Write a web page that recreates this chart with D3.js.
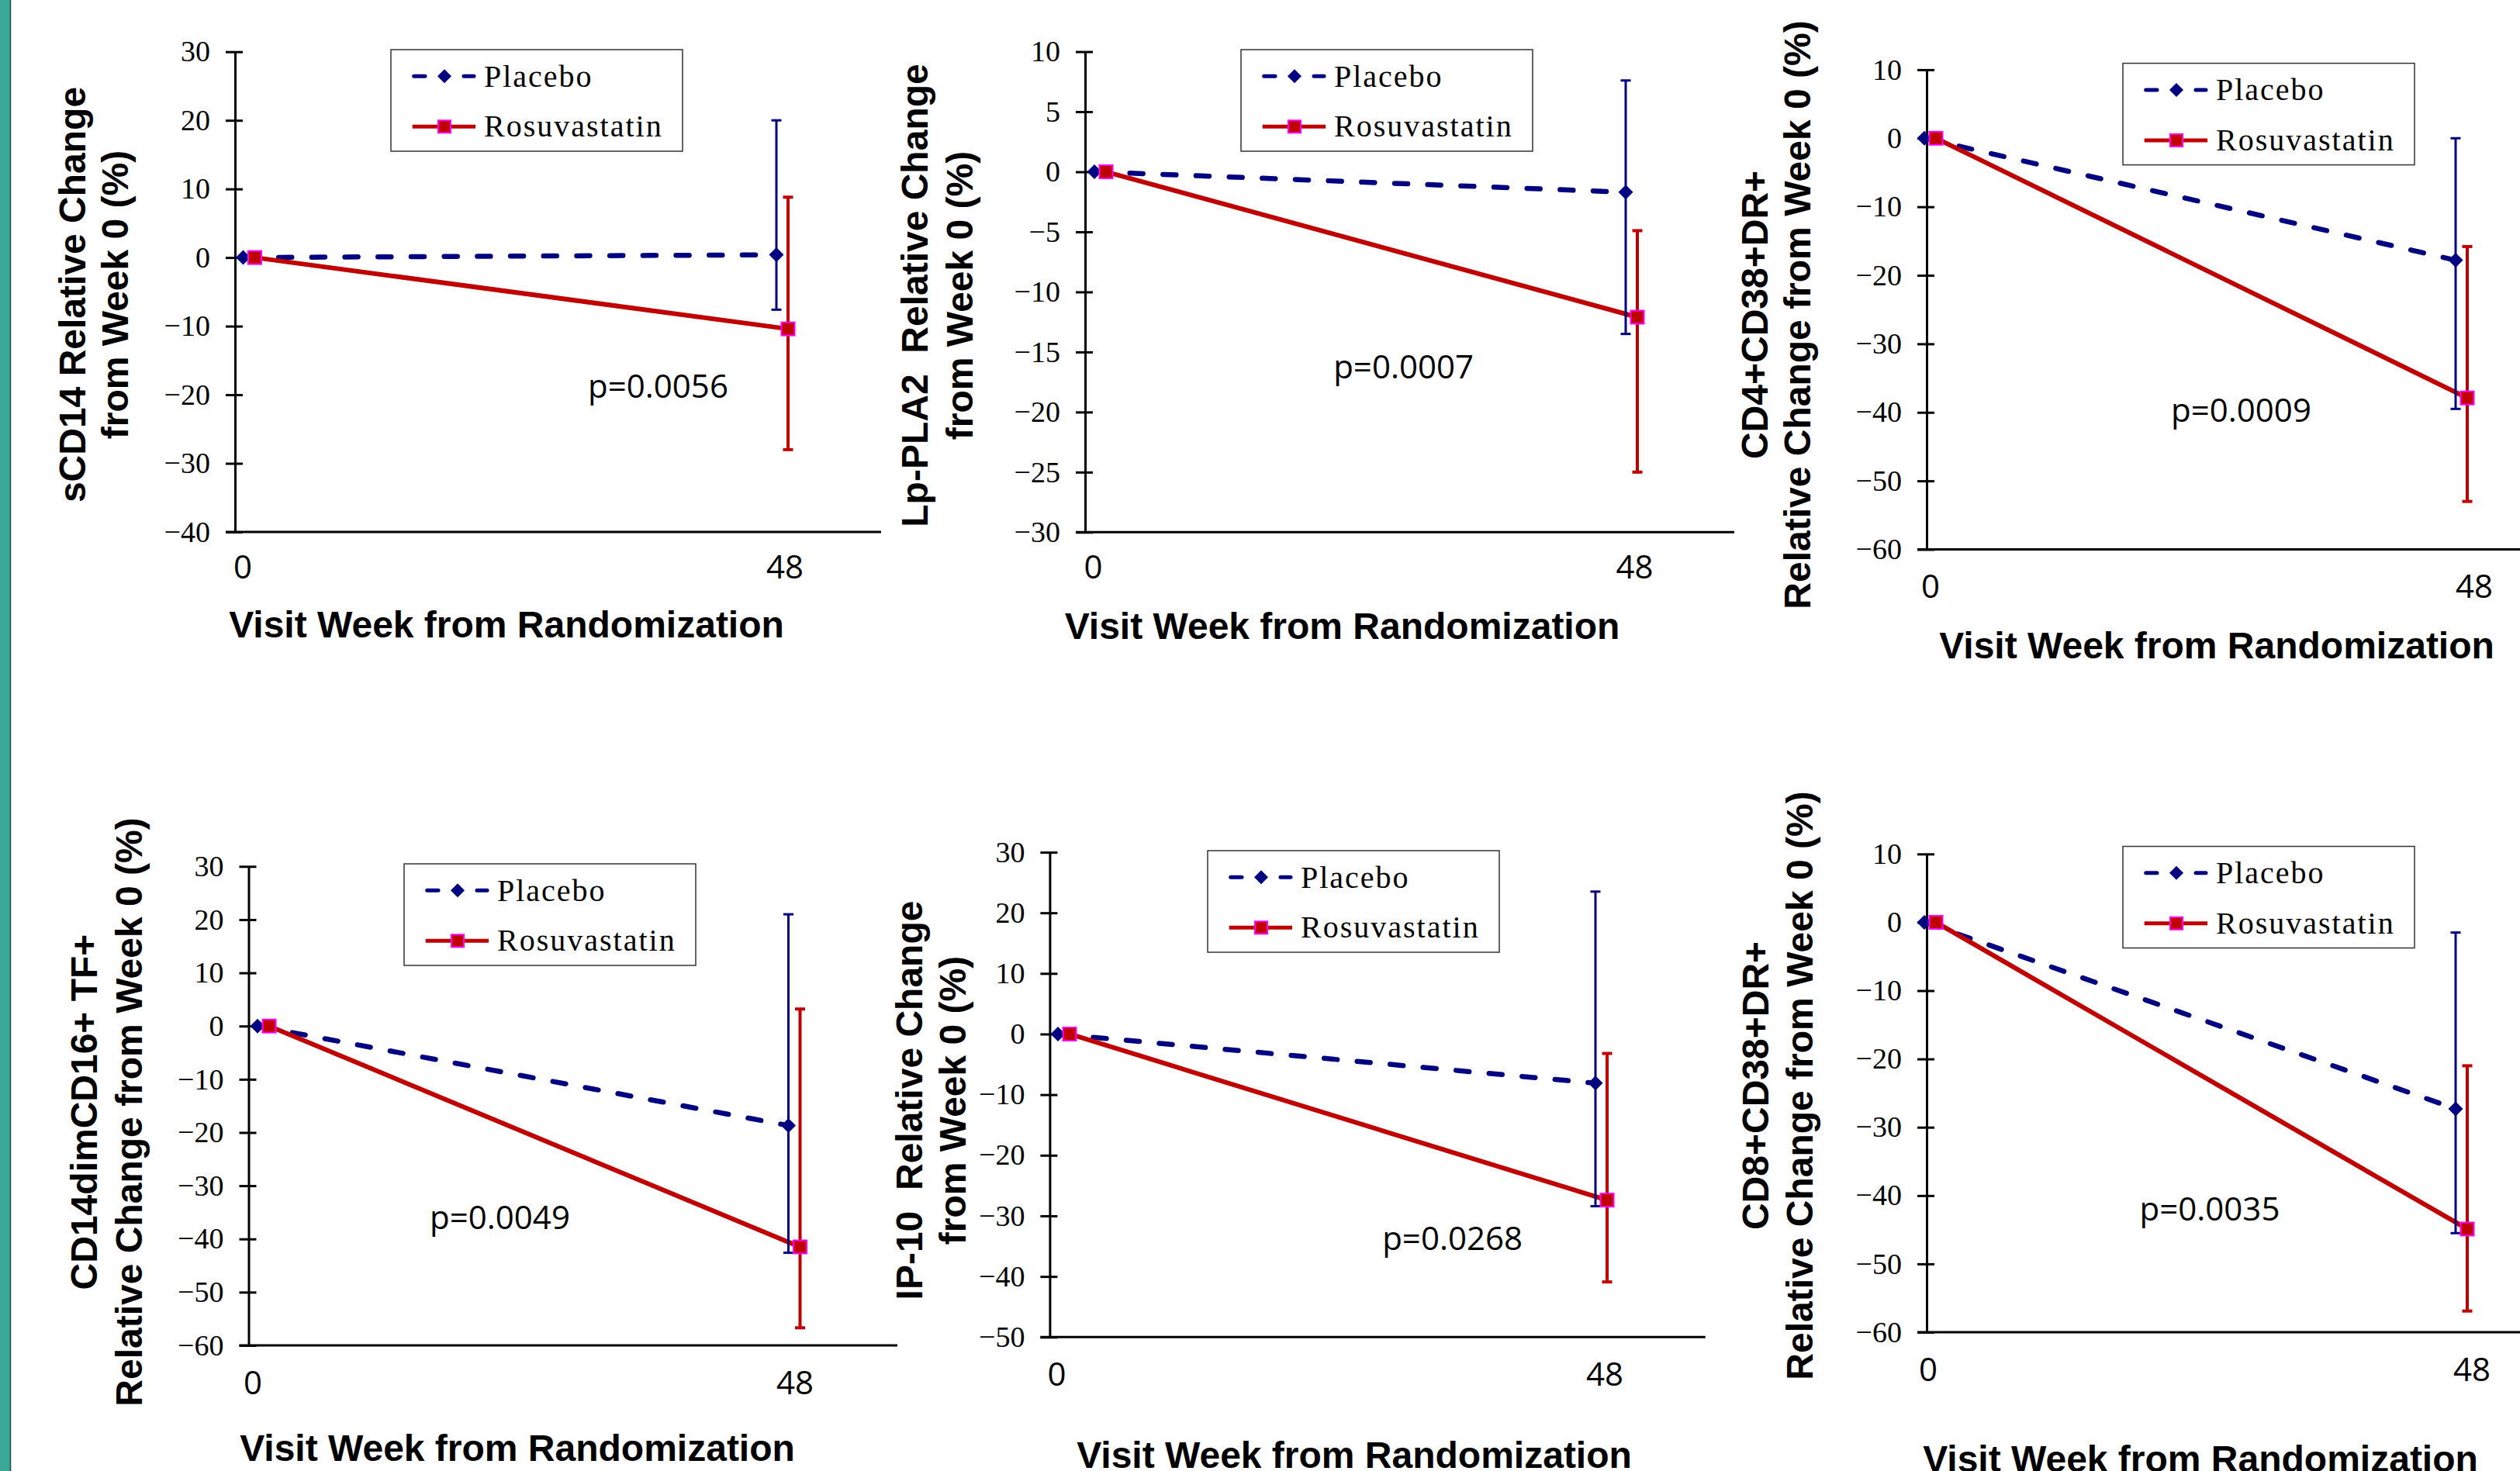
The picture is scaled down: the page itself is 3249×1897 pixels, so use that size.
<!DOCTYPE html>
<html><head><meta charset="utf-8">
<script src="https://cdn.jsdelivr.net/npm/d3@7"></script>
<style>
html,body{margin:0;padding:0;background:#fff;}
svg{display:block;}
</style></head><body>
<svg id="c" width="3249" height="1897"></svg>
<script>
// ---------- data ----------
const weeks = [0, 48];
const xTickLabels = ["0", "48"];
const seriesNames = ["Placebo", "Rosuvastatin"];
const yTitles = [
  ["sCD14 Relative Change", "from Week 0 (%)"],
  ["Lp-PLA2  Relative Change", "from Week 0 (%)"],
  ["CD4+CD38+DR+", "Relative Change from Week 0 (%)"],
  ["CD14dimCD16+ TF+", "Relative Change from Week 0 (%)"],
  ["IP-10  Relative Change", "from Week 0 (%)"],
  ["CD8+CD38+DR+", "Relative Change from Week 0 (%)"]
];
const xTitle = "Visit Week from Randomization";
const pValues = ["p=0.0056", "p=0.0007", "p=0.0009", "p=0.0049", "p=0.0268", "p=0.0035"];
const yDomains = [[-40, 30], [-30, 10], [-60, 10], [-60, 30], [-50, 30], [-60, 10]];
const yTickSteps = [10, 5, 10, 10, 10, 10];
const placeboMean = [[0, 0.4], [0, -1.7], [0, -17.8], [0, -18.7], [0, -8.1], [0, -27.3]];
const placeboLow  = [[null, -7.6], [null, -13.5], [null, -39.5], [null, -42.6], [null, -28.4], [null, -45.5]];
const placeboHigh = [[null, 20], [null, 7.6], [null, 0], [null, 21], [null, 23.5], [null, -1.5]];
const rosuvaMean  = [[0, -10.4], [0, -12.1], [0, -37.9], [0, -41.5], [0, -27.4], [0, -44.9]];
const rosuvaLow   = [[null, -28], [null, -25], [null, -53], [null, -56.7], [null, -40.9], [null, -56.9]];
const rosuvaHigh  = [[null, 8.8], [null, -4.9], [null, -15.8], [null, 3.2], [null, -3.2], [null, -21]];

// ---------- layout (pixel positions) ----------
const layout = [
  {ax:303,   yT:66.7,   yB:686,    xR:1136,   p0:313.5, p1:1001,   lg:[504,64],     yt:[110,165],      ytc:380,  pt:[848.5,513],    xl:746,    lo:[-0.5,11],  xt:[653,822]},
  {ax:1399,  yT:66.6,   yB:686.3,  xR:2236,   p0:1411,  p1:2096,   lg:[1600,64],    yt:[1195.6,1254],  ytc:381,  pt:[1809.6,488],   xl:746,    lo:[-1.5,11.5],xt:[1730.5,824]},
  {ax:2484,  yT:89.9,   yB:708.5,  xR:3249,   p0:2481,  p1:3166,   lg:[2737,81.6],  yt:[2279,2334],    ytc:406,  pt:[2889.5,543.7], xl:771,    lo:[8,24],     xt:[2858,849]},
  {ax:320.5, yT:1117.3, yB:1735,   xR:1157,   p0:332,   p1:1016.5, lg:[521,1114],   yt:[124.7,183],    ytc:1434, pt:[644.5,1584.7], xl:1798,   lo:[-6,8.5],   xt:[667,1884]},
  {ax:1353.4,yT:1099,   yB:1724.3, xR:2198.7, p0:1364,  p1:2057,   lg:[1557,1097],  yt:[1188.6,1244.7],ytc:1419, pt:[1872.6,1612],  xl:1786.6, lo:[-1.5,12],  xt:[1746,1892.5]},
  {ax:2484,  yT:1101.3, yB:1718,   xR:3249,   p0:2481,  p1:3166,   lg:[2737,1091.5],yt:[2280,2337],    ytc:1400, pt:[2849,1573.8],  xl:1781,   lo:[5,21],     xt:[2837,1898]}
];

const NAVY = "#000080", RED = "#c00000", MAG = "#ff00ff";
const ROS_OFF = 15;
const serif = "'Liberation Serif', 'Times New Roman', serif";
const sans = "'Liberation Sans', Arial, sans-serif";
const calib = "'Open Sans', sans-serif";

const svg = d3.select("#c");
svg.append("rect").attr("x", 0).attr("y", 0).attr("width", 13).attr("height", 1897).attr("fill", "#3aa996");
svg.append("line").attr("x1", 13.5).attr("x2", 13.5).attr("y1", 0).attr("y2", 1897).attr("stroke", "#1d4d44").attr("stroke-width", 1.5);

function diamond(g, cx, cy, r) {
  g.append("path").attr("d", `M${cx},${cy - r}L${cx + r},${cy}L${cx},${cy + r}L${cx - r},${cy}Z`).attr("fill", NAVY);
}
function square(g, cx, cy, h) {
  g.append("rect").attr("x", cx - h).attr("y", cy - h).attr("width", 2 * h).attr("height", 2 * h)
    .attr("fill", RED).attr("stroke", MAG).attr("stroke-width", 2);
}

layout.forEach((L, i) => {
  const g = svg.append("g");
  const y = d3.scaleLinear().domain(yDomains[i]).range([L.yB, L.yT]);
  const x = d3.scaleLinear().domain([weeks[0], weeks[1]]).range([L.p0, L.p1]);
  const step = yTickSteps[i];
  const ticks = d3.range(yDomains[i][0], yDomains[i][1] + step / 2, step);

  // y axis
  const ax = g.append("g").attr("transform", `translate(${L.ax},0)`)
    .call(d3.axisLeft(y).tickValues(ticks).tickSize(12).tickSizeOuter(0).tickPadding(20));
  ax.select(".domain").attr("stroke", "#000").attr("stroke-width", 3);
  ax.selectAll(".tick line").attr("x1", 10).attr("stroke", "#000").attr("stroke-width", 3);
  ax.selectAll(".tick text").attr("font-family", serif).attr("font-size", 38).attr("fill", "#000");

  // x axis line
  g.append("line").attr("x1", L.ax - 12).attr("x2", L.xR)
    .attr("y1", y(yDomains[i][0])).attr("y2", y(yDomains[i][0]))
    .attr("stroke", "#000").attr("stroke-width", 3);

  // x tick labels
  weeks.forEach((w, k) => {
    g.append("text").attr("x", x(w) + L.lo[k]).attr("y", L.xl).attr("text-anchor", "middle")
      .attr("font-family", calib).attr("font-size", 42).attr("fill", "#000").text(xTickLabels[k]);
  });

  // series
  const pData = weeks.map((w, k) => [w, placeboMean[i][k], placeboLow[i][k], placeboHigh[i][k]]);
  const rData = weeks.map((w, k) => [w, rosuvaMean[i][k], rosuvaLow[i][k], rosuvaHigh[i][k]]);

  const lineP = d3.line().x(d => x(d[0])).y(d => y(d[1]));
  const lineR = d3.line().x(d => x(d[0]) + ROS_OFF).y(d => y(d[1]));

  g.append("path").attr("d", lineP(pData)).attr("fill", "none").attr("stroke", NAVY)
    .attr("stroke-width", 6.5).attr("stroke-dasharray", "17,25.7").attr("stroke-dashoffset", -3)
    .attr("stroke-linecap", "round");
  g.append("path").attr("d", lineR(rData)).attr("fill", "none").attr("stroke", RED).attr("stroke-width", 6);

  // error bars
  function errBar(d, off, color, w) {
    if (d[2] == null) return;
    const cx = x(d[0]) + off;
    g.append("line").attr("x1", cx).attr("x2", cx).attr("y1", y(d[2])).attr("y2", y(d[3])).attr("stroke", color).attr("stroke-width", w);
    [d[2], d[3]].forEach(v => g.append("line").attr("x1", cx - 6.5).attr("x2", cx + 6.5)
      .attr("y1", y(v)).attr("y2", y(v)).attr("stroke", color).attr("stroke-width", w));
  }
  pData.forEach(d => errBar(d, 0, NAVY, 3));
  rData.forEach(d => errBar(d, ROS_OFF, RED, 4));

  pData.forEach(d => diamond(g, x(d[0]), y(d[1]), 9.5));
  rData.forEach(d => square(g, x(d[0]) + ROS_OFF, y(d[1]), 8.5));

  // legend
  const lg = g.append("g").attr("transform", `translate(${L.lg[0]},${L.lg[1]})`);
  lg.append("rect").attr("width", 376).attr("height", 131).attr("fill", "#fff").attr("stroke", "#333").attr("stroke-width", 1.5);
  const r1 = 34.3, r2 = 99.3;
  [[27.7, 46], [92, 109]].forEach(s => lg.append("line").attr("x1", s[0] + 2).attr("x2", s[1] - 2).attr("y1", r1).attr("y2", r1)
    .attr("stroke", NAVY).attr("stroke-width", 5).attr("stroke-linecap", "round"));
  diamond(lg, 69, r1, 9);
  lg.append("line").attr("x1", 27.7).attr("x2", 109).attr("y1", r2).attr("y2", r2).attr("stroke", RED).attr("stroke-width", 5);
  square(lg, 69, r2, 8);
  [[seriesNames[0], 47.7], [seriesNames[1], 112]].forEach(t => lg.append("text").attr("x", 120).attr("y", t[1])
    .attr("font-family", serif).attr("font-size", 40).attr("letter-spacing", 2).attr("fill", "#000").text(t[0]));

  // y title
  yTitles[i].forEach((t, j) => {
    g.append("text").attr("transform", `translate(${L.yt[j]},${L.ytc}) rotate(-90)`)
      .attr("text-anchor", "middle").attr("font-family", sans).attr("font-weight", "bold")
      .attr("font-size", 48).attr("xml:space", "preserve").style("white-space", "pre").attr("fill", "#000").text(t);
  });

  // x title
  g.append("text").attr("x", L.xt[0]).attr("y", L.xt[1]).attr("text-anchor", "middle")
    .attr("font-family", sans).attr("font-weight", "bold").attr("font-size", 48).attr("fill", "#000").text(xTitle);

  // p value
  g.append("text").attr("x", L.pt[0]).attr("y", L.pt[1]).attr("text-anchor", "middle")
    .attr("font-family", calib).attr("font-size", 42).attr("fill", "#000").text(pValues[i]);
});
</script>
</body></html>
